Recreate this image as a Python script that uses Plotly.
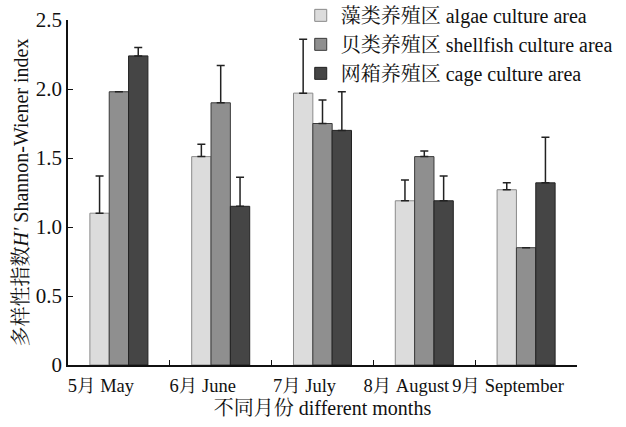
import plotly.graph_objects as go

months = ["5月 May", "6月 June", "7月 July", "8月 August", "9月 September"]
series_names = ["藻类养殖区 algae culture area", "贝类养殖区 shellfish culture area", "网箱养殖区 cage culture area"]
algae = [1.10, 1.51, 1.97, 1.19, 1.27]
algae_err = [0.27, 0.09, 0.39, 0.15, 0.05]
shellfish = [1.98, 1.90, 1.75, 1.51, 0.85]
shellfish_err = [0.0, 0.27, 0.17, 0.04, 0.0]
cage = [2.24, 1.15, 1.70, 1.19, 1.32]
cage_err = [0.06, 0.21, 0.28, 0.18, 0.33]
y_ticks = [0, 0.5, 1.0, 1.5, 2.0, 2.5]
y_tick_labels = ["0", "0.5", "1.0", "1.5", "2.0", "2.5"]

fills = ["#dcdcdc", "#8f8f8f", "#454545"]
lines = ["#8a8a8a", "#3a3a3a", "#222222"]
font_family = "Liberation Serif, Noto Serif CJK SC, Noto Sans CJK SC, serif"

fig = go.Figure()
for name, vals, errs, fc, lc in zip(series_names, [algae, shellfish, cage],
                                    [algae_err, shellfish_err, cage_err], fills, lines):
    fig.add_trace(go.Bar(
        x=months, y=vals, name=name,
        marker=dict(color=fc, line=dict(color=lc, width=1)),
        error_y=dict(type="data", array=errs, symmetric=False, arrayminus=[0]*len(errs),
                     color="#222222", thickness=1.5, width=4),
    ))

fig.update_layout(
    width=626, height=427,
    margin=dict(l=68, r=49, t=20, b=62, autoexpand=False),
    barmode="group", bargap=0.43, bargroupgap=0,
    plot_bgcolor="white", paper_bgcolor="white",
    font=dict(family=font_family, size=20, color="#111111"),
    showlegend=True,
    legend=dict(x=1.08, y=1.07, xanchor="right", yanchor="top",
                bgcolor="rgba(255,255,255,0)", font=dict(family=font_family, size=20),
                itemwidth=30, tracegroupgap=0),
    xaxis=dict(
        range=[-0.5, 4.5], showline=True, linecolor="#111111", linewidth=1.5,
        ticks="inside", tickson="boundaries", ticklen=5, tickcolor="#111111",
        tickangle=0, tickfont=dict(size=18.5), automargin=False,
        ticklabelshift=-18, ticklabelstandoff=3,
        title=dict(text="不同月份 different months", standoff=6, font=dict(size=20)),
        showgrid=False, zeroline=False,
    ),
    yaxis=dict(
        range=[0, 2.5], showline=True, linecolor="#111111", linewidth=1.5,
        ticks="inside", ticklen=5, tickcolor="#111111", automargin=False,
        tickvals=y_ticks, ticktext=y_tick_labels, tickfont=dict(size=21),
        title=dict(text="多样性指数<i>H'</i> Shannon-Wiener index", standoff=2, font=dict(size=20)),
        showgrid=False, zeroline=False,
    ),
)

fig.write_html("out.html", config={"displayModeBar": False},
               post_script="document.body.style.margin='0';document.body.style.padding='0';")
